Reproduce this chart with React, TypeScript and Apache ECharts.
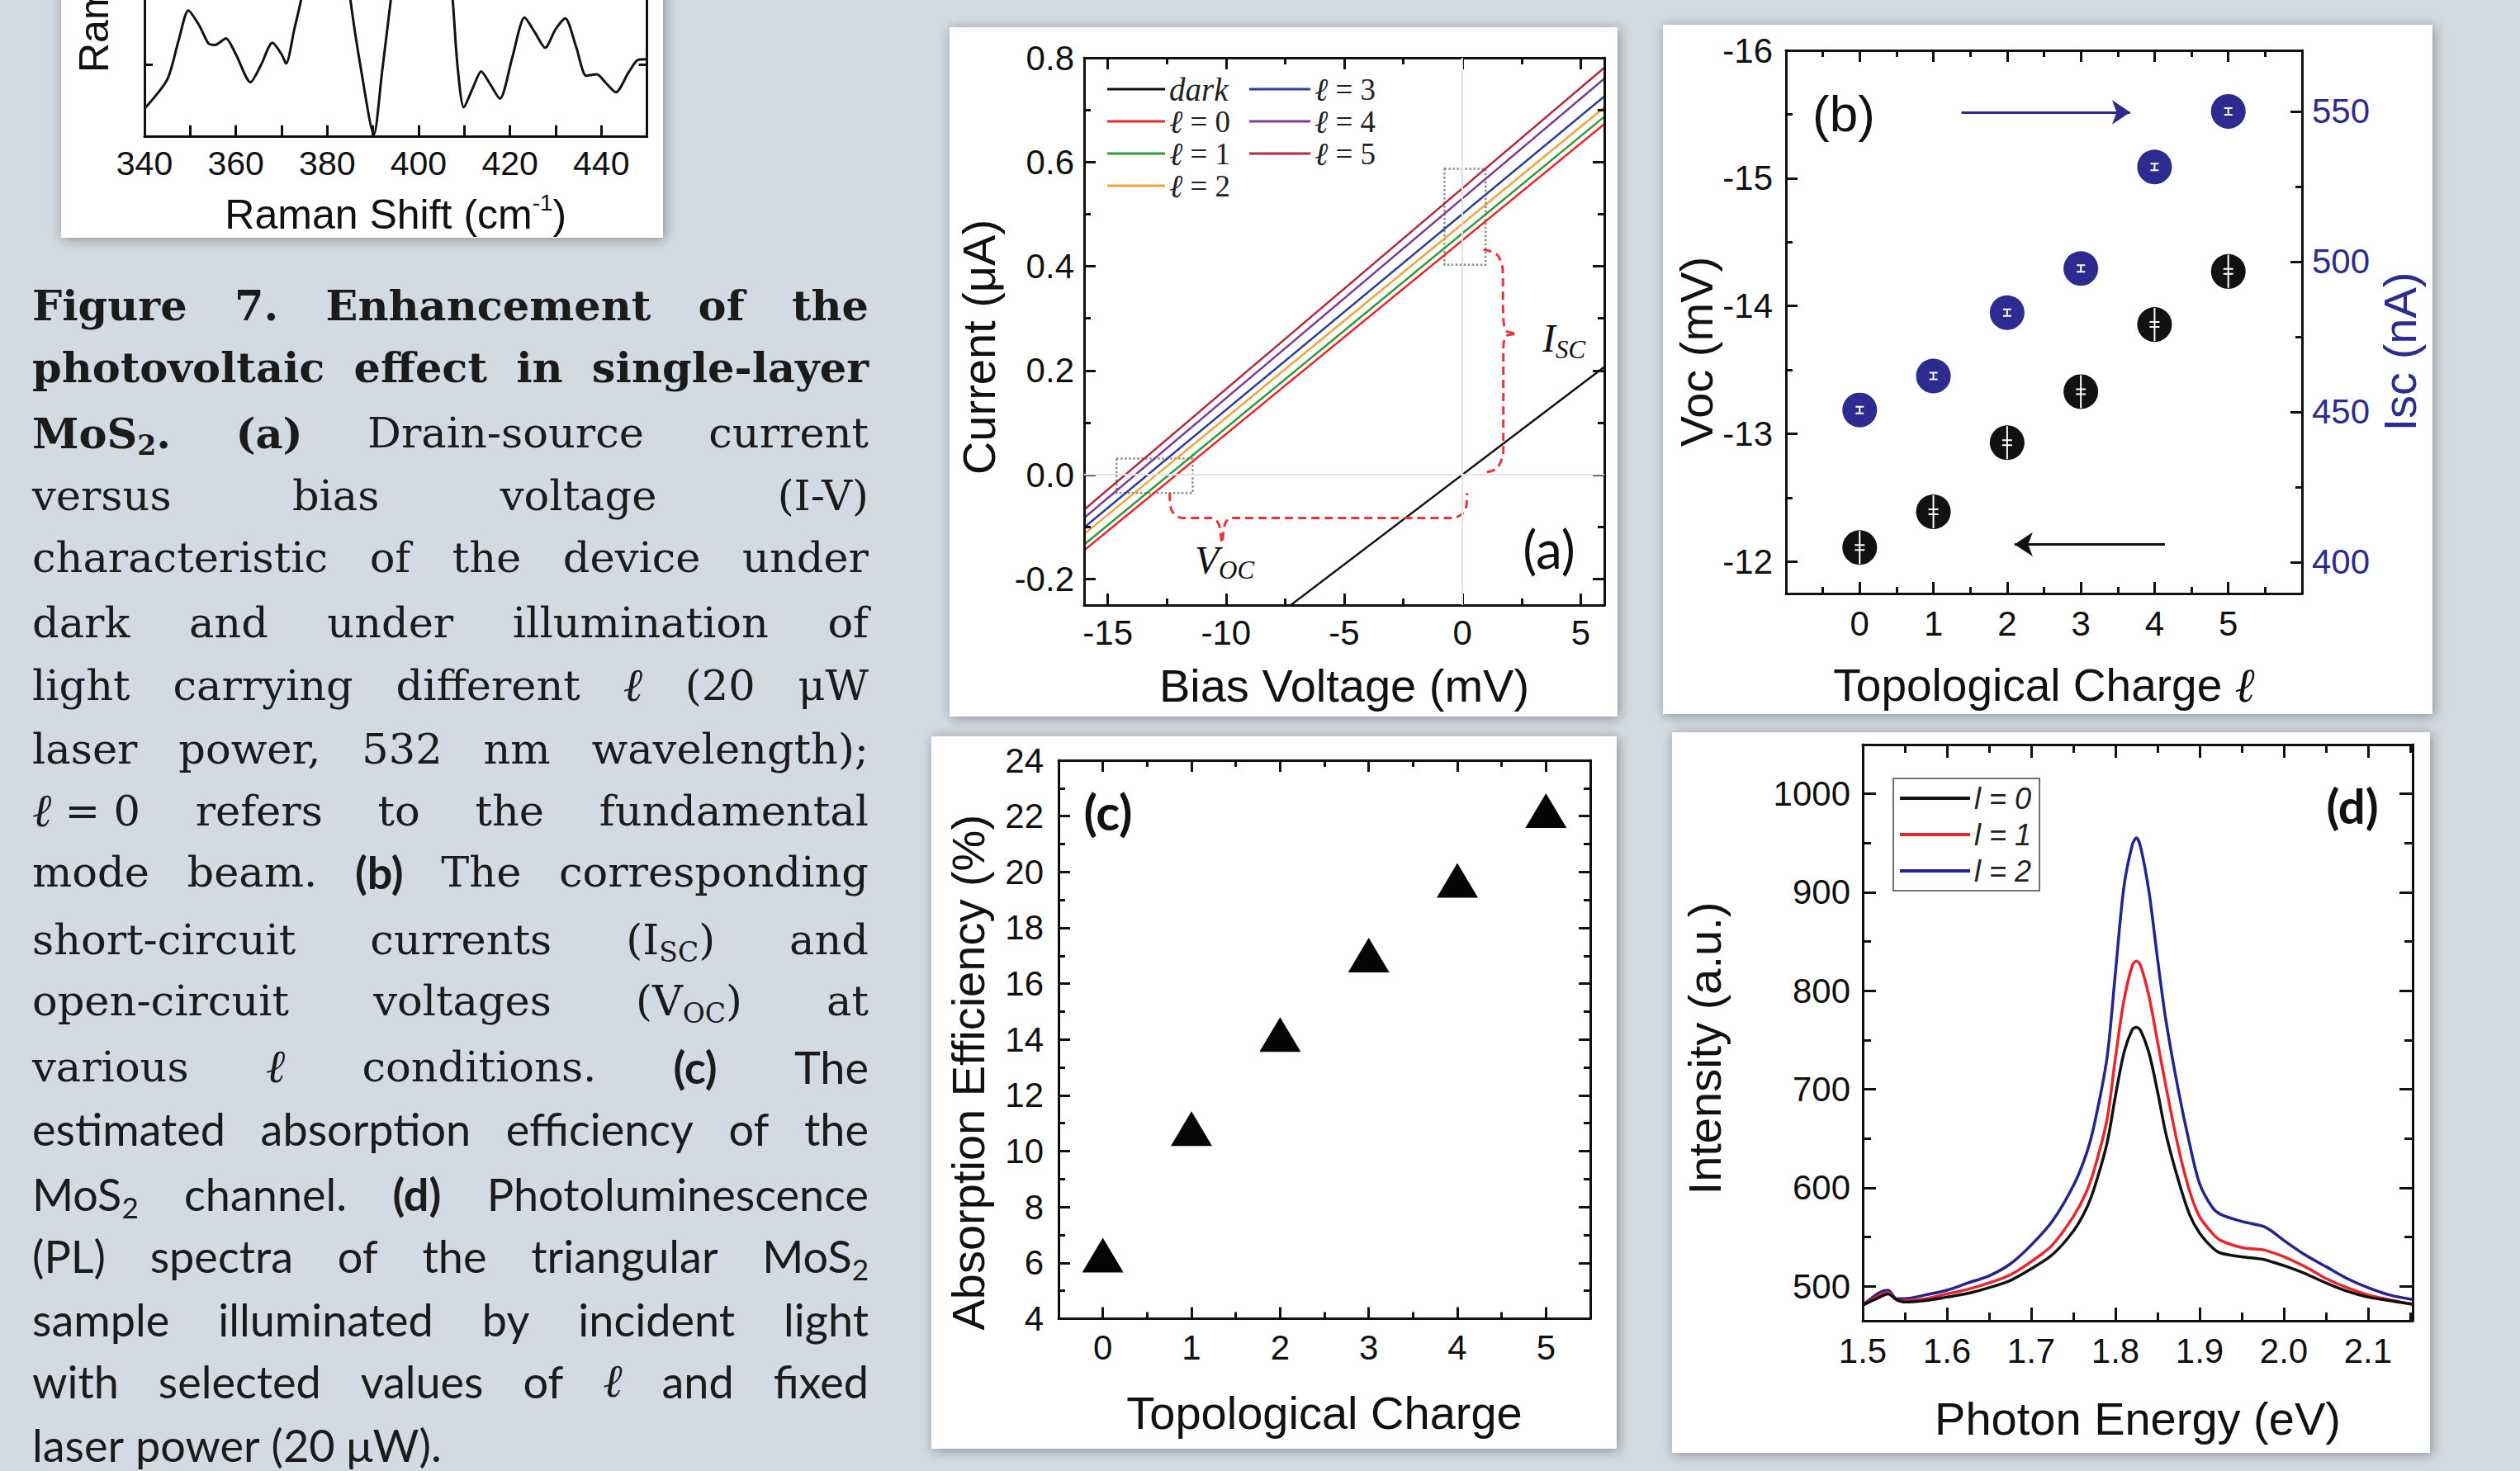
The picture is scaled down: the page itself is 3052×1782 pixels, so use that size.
import React, { useEffect, useRef } from 'react';
import * as echarts from 'echarts';

const SANS = '"Liberation Sans", Arial, Helvetica, sans-serif';
const SERIF = '"DejaVu Serif", "Liberation Serif", serif';
const MATH = '"Liberation Serif", "DejaVu Serif", serif';
const CAL = 'Lato, "Open Sans", sans-serif';
const INK = '#111111';
const NAVY = '#2c2b8f';
const RED = '#e8343c';
const BG = '#d4dae1';

// ---------------- DATA ----------------
// Raman inset (top-left, partly cut off)
const ramanShift = [340, 345, 347.5, 349.6, 352, 354, 355.5, 357.8, 360, 363.2, 365.5, 368, 370, 371, 372.8, 374.4, 377, 380, 383, 385, 387.5, 390.2, 392, 394, 397, 401, 405, 407.4, 408.5, 409.9, 412, 413.7, 415.5, 417.8, 420.5, 423.2, 425.5, 427.7, 430, 432.1, 434.5, 436.7, 439, 441, 443.2, 446, 448, 450];
const ramanIntensity = [0.39, 0.80, 1.35, 1.76, 1.55, 1.30, 1.28, 1.37, 1.15, 0.76, 1.0, 1.31, 1.15, 1.02, 1.5, 1.95, 3.0, 4.0, 3.2, 1.95, 0.9, 0.03, 0.9, 1.95, 3.5, 4.2, 3.3, 1.95, 1.0, 0.41, 0.7, 0.91, 0.75, 0.53, 1.1, 1.66, 1.45, 1.24, 1.5, 1.65, 1.25, 0.85, 0.87, 0.75, 0.62, 0.9, 1.07, 1.08];
const ramanTickLabels = [340, 360, 380, 400, 420, 440];
const ramanTicks = [350, 360, 370, 380, 390, 400, 410, 420, 430, 440];

// (a) I-V curves
const biasEnds = [-16, 6];
const darkBias = [-7.35, 6];
const darkCurrent = [-0.253, 0.207];
const currentL0 = [-0.145, 0.673];
const currentL1 = [-0.134, 0.687];
const currentL2 = [-0.114, 0.705];
const currentL3 = [-0.101, 0.726];
const currentL4 = [-0.083, 0.760];
const currentL5 = [-0.067, 0.781];
const ivNames = ['ℓ = 0', 'ℓ = 1', 'ℓ = 2', 'ℓ = 3', 'ℓ = 4', 'ℓ = 5'];
const ivColors = ['#e8262b', '#2f9a3c', '#f2a23a', '#2c3d9e', '#7d3c98', '#b32a3f'];
const biasTicks = [-15, -10, -5, 0, 5];
const biasMinor = [-12.5, -7.5, -2.5, 2.5];
const currentTicks = [-0.2, 0, 0.2, 0.4, 0.6, 0.8];
const currentMinor = [-0.1, 0.1, 0.3, 0.5, 0.7];
const vocBox = [[-14.63, 0.031], [-11.41, -0.035]];
const iscBox = [[-0.76, 0.587], [0.98, 0.403]];
const iscBraceV = [0.89, 1.45, 1.7, 1.73, 1.85, 2.29, 1.85, 1.73, 1.73, 1.45, 0.89];
const iscBraceI = [0.432, 0.423, 0.395, 0.3, 0.276, 0.271, 0.266, 0.245, 0.045, 0.012, 0.004];
const vocBraceV = [-12.38, -12.3, -11.85, -10.6, -10.3, -10.17, -10.05, -9.8, -0.4, 0.12, 0.2];
const vocBraceI = [-0.035, -0.068, -0.083, -0.083, -0.095, -0.131, -0.095, -0.083, -0.083, -0.068, -0.035];

// (b) Voc / Isc
const charge = [0, 1, 2, 3, 4, 5];
const vocValues = [-12.11, -12.39, -12.93, -13.33, -13.855, -14.27];
const iscValues = [450.6, 461.9, 483.0, 497.7, 531.5, 550.0];
const chargeHalfTicks = [-0.5, 0.5, 1.5, 2.5, 3.5, 4.5, 5.5];
const vocTicks = [-16, -15, -14, -13, -12];
const vocMinor = [-15.5, -14.5, -13.5, -12.5];
const iscTicks = [400, 450, 500, 550];
const iscMinor = [425, 475, 525];
const iscArrow = [[1.38, 549.7], [3.67, 549.7]];
const vocArrow = [[4.14, -12.135], [2.1, -12.135]];

// (c) absorption efficiency
const absorption = [6.28, 10.81, 14.18, 17.02, 19.7, 22.2];
const absTicks = [4, 6, 8, 10, 12, 14, 16, 18, 20, 22, 24];
const absMinor = [5, 7, 9, 11, 13, 15, 17, 19, 21, 23];
const chargeMidTicks = [0.5, 1.5, 2.5, 3.5, 4.5];

// (d) PL spectra
const photonEnergy = [1.5, 1.52, 1.53, 1.54, 1.55, 1.575, 1.6, 1.625, 1.65, 1.675, 1.7, 1.725, 1.75, 1.765, 1.775, 1.79, 1.8, 1.81, 1.82, 1.825, 1.83, 1.84, 1.85, 1.86, 1.875, 1.888, 1.9, 1.915, 1.925, 1.95, 1.975, 1.985, 2.0, 2.025, 2.05, 2.075, 2.1, 2.125, 2.153];
const plL0 = [480.8, 489, 492.3, 486.5, 484, 485.6, 489, 492.8, 498.6, 505.8, 517.8, 532, 556, 578, 600, 645, 693, 736.5, 760.6, 763, 759.6, 736.5, 698, 654.8, 607, 573, 554, 539.4, 533.7, 530, 527.4, 525, 521, 513, 503.4, 495, 489, 485.6, 481.7];
const plL1 = [481, 491, 494, 486.5, 485.6, 487.5, 492.3, 497, 503.4, 511.5, 525, 541.8, 570.7, 594.7, 618.8, 669, 731.7, 789.4, 825.5, 830.3, 825.5, 794, 748.6, 703, 640, 597, 570.7, 554, 546.6, 539.4, 537, 534.6, 530, 520, 508, 498.6, 491.3, 486.5, 481.7];
const plL2 = [481, 493.7, 496, 487.5, 487.5, 491.3, 496, 503.4, 510.6, 522.6, 541.8, 565.9, 602, 633.2, 664.4, 731.7, 818, 904.8, 948, 955.3, 945.7, 900, 832.7, 770, 698, 645, 604.3, 580.3, 573, 565.9, 561, 556.3, 546.6, 532, 520, 508, 498.6, 491.3, 486.5];
const plNames = ['l = 0', 'l = 1', 'l = 2'];
const plColors = ['#111111', '#e8262b', '#25238f'];
const energyTicks = [1.5, 1.6, 1.7, 1.8, 1.9, 2.0, 2.1];
const energyMinor = [1.55, 1.65, 1.75, 1.85, 1.95, 2.05, 2.15];
const intensityTicks = [500, 600, 700, 800, 900, 1000];
const intensityMinor = [550, 650, 750, 850, 950];

// Caption text (style:text, runs joined by +, ~ = space)
const CAPTION = [
  'sb:Figure sb:7. sb:Enhancement sb:of sb:the',
  'sb:photovoltaic sb:effect sb:in sb:single-layer',
  'sb:MoS+sbs:2+sb:. sb:(a) sr:Drain-source sr:current',
  'sr:versus sr:bias sr:voltage sr:(I-V)',
  'sr:characteristic sr:of sr:the sr:device sr:under',
  'sr:dark sr:and sr:under sr:illumination sr:of',
  'sr:light sr:carrying sr:different si:ℓ sr:(20 sr:μW',
  'sr:laser sr:power, sr:532 sr:nm sr:wavelength);',
  'si:ℓ+sr:~=~0 sr:refers sr:to sr:the sr:fundamental',
  'sr:mode sr:beam. nb:(b) sr:The sr:corresponding',
  'sr:short-circuit sr:currents sr:(I+srs:SC+sr:) sr:and',
  'sr:open-circuit sr:voltages sr:(V+srs:OC+sr:) sr:at',
  'sr:various si:ℓ sr:conditions. nb:(c) nr:The',
  'nr:estimated nr:absorption nr:efficiency nr:of nr:the',
  'nr:MoS+nrs:2 nr:channel. nb:(d) nr:Photoluminescence',
  'nr:(PL) nr:spectra nr:of nr:the nr:triangular nr:MoS+nrs:2',
  'nr:sample nr:illuminated nr:by nr:incident nr:light',
  'nr:with nr:selected nr:values nr:of si:ℓ nr:and nr:fixed',
  'nr:laser nr:power nr:(20 nr:μW).',
];
const CAP_Y = [370, 445, 524.5, 600, 675, 754, 830, 907.5, 982, 1056.5, 1138, 1212, 1292, 1367, 1446, 1521, 1598.5, 1673, 1750.5];
const CAP_LEFT = 39;
const CAP_RIGHT = 1052;
const CAP_SERIF_SIZE = 51;
const CAP_SANS_SIZE = 54;

function pairs(xs: number[], ys: number[]) {
  return xs.map((x, i) => [x, ys[i]]);
}

function capFont(key: string) {
  const S = CAP_SERIF_SIZE;
  const N = CAP_SANS_SIZE;
  const sub = key.length === 3 && key[2] === 's';
  const isSans = key[0] === 'n';
  const base = isSans ? N : S;
  const k2 = key[1];
  return {
    isSans,
    group: isSans ? 'n' : k2 === 'b' ? 'b' : 'r',
    family: isSans ? CAL : k2 === 'i' ? MATH : SERIF,
    weight: k2 === 'b' ? 'bold' : 'normal',
    style: k2 === 'i' ? 'italic' : 'normal',
    size: sub ? Math.round(base * 0.64) : k2 === 'i' ? Math.round(base * 1.1) : base,
    sub,
    base,
  };
}

function buildCaption(): any[] {
  const ctx = document.createElement('canvas').getContext('2d') as CanvasRenderingContext2D;
  const parsed = CAPTION.map((line) =>
    line.split(' ').map((w) =>
      w.split('+').map((r) => {
        const i = r.indexOf(':');
        return { k: r.slice(0, i), t: r.slice(i + 1).replace(/~/g, ' ') };
      })
    )
  );
  const rawW = (r: any) => {
    const f = capFont(r.k);
    ctx.font = `${f.style} ${f.weight} ${f.size}px ${f.family}`;
    return ctx.measureText(r.t).width;
  };
  const avail = CAP_RIGHT - CAP_LEFT;
  const parts = (ws: any[]) => {
    const p: any = { b: 0, r: 0, n: 0 };
    ws.forEach((w) => w.forEach((r: any) => {
      p[capFont(r.k).group] += rawW(r);
    }));
    return p;
  };
  const k: any = { b: 1, r: 1, n: 1 };
  for (let i = 0; i <= 1; i++) {
    const ws = parsed[i];
    const p = parts(ws);
    const gaps = (ws.length - 1) * 0.26 * CAP_SERIF_SIZE;
    k.b = Math.min(k.b, (avail - gaps) / p.b);
  }
  for (let i = 2; i <= 12; i++) {
    const ws = parsed[i];
    const p = parts(ws);
    const gaps = (ws.length - 1) * 0.26 * CAP_SERIF_SIZE;
    k.r = Math.min(k.r, (avail - gaps - p.b * k.b - p.n) / p.r);
  }
  for (let i = 13; i <= 17; i++) {
    const ws = parsed[i];
    const p = parts(ws);
    const gaps = (ws.length - 1) * 0.23 * CAP_SANS_SIZE;
    k.n = Math.min(k.n, (avail - gaps - p.r * k.r - p.b * k.b) / p.n);
  }
  const runK = (r: any) => k[capFont(r.k).group];
  const runW = (r: any) => rawW(r) * runK(r);
  const wordW = (w: any[]) => w.reduce((a, r) => a + runW(r), 0);

  const els: any[] = [];
  parsed.forEach((ws, li) => {
    const widths = ws.map((w) => wordW(w));
    const sum = widths.reduce((a, b) => a + b, 0);
    let gap: number;
    if (li === parsed.length - 1) {
      ctx.font = `normal normal ${CAP_SANS_SIZE}px ${CAL}`;
      gap = ctx.measureText(' ').width * k.n;
    } else {
      gap = (avail - sum) / (ws.length - 1);
    }
    let x = CAP_LEFT;
    const y = CAP_Y[li];
    ws.forEach((w, wi) => {
      let rx = x;
      w.forEach((r) => {
        const f = capFont(r.k);
        els.push({
          type: 'text',
          x: rx,
          y: f.sub ? y + f.base * 0.3 : y,
          scaleX: runK(r),
          z: 100,
          silent: true,
          style: {
            text: r.t,
            fontSize: f.size,
            fontFamily: f.family,
            fontWeight: f.weight,
            fontStyle: f.style,
            fill: '#1b1b1b',
            textAlign: 'left',
            textVerticalAlign: 'middle',
            verticalAlign: 'middle',
          },
        });
        rx += runW(r);
      });
      x += widths[wi] + gap;
    });
  });
  return els;
}

function buildOption() {
  const xAxes: any[] = [];
  const yAxes: any[] = [];
  const ax = (list: any[], c: any) => {
    list.push({
      type: 'value',
      gridIndex: c.grid,
      position: c.pos,
      min: c.min,
      max: c.max,
      inverse: !!c.inverse,
      silent: true,
      z: 4,
      axisLine: { show: c.line !== false, onZero: false, lineStyle: { color: INK, width: 3 } },
      axisTick:
        c.ticks && c.ticks.length
          ? { show: true, inside: true, length: c.len ?? 14, customValues: c.ticks, lineStyle: { color: INK, width: 3 } }
          : { show: false },
      axisLabel: c.labels
        ? {
            show: true,
            customValues: c.labels,
            formatter: c.fmt ?? ((v: number) => String(v)),
            fontSize: c.labelSize ?? 42,
            fontFamily: SANS,
            color: c.color ?? INK,
            margin: c.margin ?? 13,
          }
        : { show: false },
      splitLine: { show: false },
      minorTick: { show: false },
      name: c.name ?? '',
      nameLocation: 'middle',
      nameGap: c.gap ?? 0,
      nameTextStyle: c.nameStyle ?? {},
    });
    return list.length - 1;
  };
  const nm = (size: number, color: string, padRight: number) => ({
    fontSize: size,
    fontFamily: SANS,
    color,
    padding: [0, padRight, 0, 0],
  });
  const box = (g: number, xc: any, yc: any) => {
    const xi = ax(xAxes, { grid: g, pos: 'bottom', min: xc.min, max: xc.max, ticks: xc.major, len: xc.len, labels: xc.labels, fmt: xc.fmt, margin: xc.margin, name: xc.name, gap: xc.gap, nameStyle: xc.nameStyle ?? nm(56, INK, 0) });
    ax(xAxes, { grid: g, pos: 'bottom', min: xc.min, max: xc.max, ticks: xc.minor, len: xc.mlen ?? 8, line: false });
    ax(xAxes, { grid: g, pos: 'top', min: xc.min, max: xc.max, ticks: xc.major, len: xc.len });
    ax(xAxes, { grid: g, pos: 'top', min: xc.min, max: xc.max, ticks: xc.minor, len: xc.mlen ?? 8, line: false });
    const yi = ax(yAxes, { grid: g, pos: 'left', min: yc.min, max: yc.max, ticks: yc.major, len: yc.len, labels: yc.labels, fmt: yc.fmt, margin: yc.margin, name: yc.name, gap: yc.gap, nameStyle: nm(56, INK, yc.pad ?? 0) });
    ax(yAxes, { grid: g, pos: 'left', min: yc.min, max: yc.max, ticks: yc.minor, len: yc.mlen ?? 8, line: false });
    ax(yAxes, { grid: g, pos: 'right', min: yc.min, max: yc.max, ticks: yc.major, len: yc.len });
    ax(yAxes, { grid: g, pos: 'right', min: yc.min, max: yc.max, ticks: yc.minor, len: yc.mlen ?? 8, line: false });
    return { xi, yi };
  };

  const grid = [
    { left: 175, top: -234.3, width: 608.6, height: 400 },
    { left: 1313, top: 70, width: 630, height: 663 },
    { left: 2163, top: 61, width: 625, height: 658 },
    { left: 1282, top: 921, width: 644, height: 676.5 },
    { left: 2256, top: 902, width: 666, height: 698 },
  ].map((g) => ({ ...g, containLabel: false, outerBoundsMode: 'none', show: false }));

  // Raman inset axes
  const rx = ax(xAxes, {
    grid: 0, pos: 'bottom', min: 340, max: 450, ticks: ramanTicks, len: 14, labels: ramanTickLabels, margin: 12, labelSize: 41,
    name: '{a|Raman Shift (cm}{b|-1}{a|)}', gap: 66,
    nameStyle: {
      rich: {
        a: { fontSize: 50, fontFamily: SANS, color: INK, lineHeight: 56 },
        b: { fontSize: 28, fontFamily: SANS, color: INK, lineHeight: 32, verticalAlign: 'top' },
      },
    },
  });
  const ry = ax(yAxes, { grid: 0, pos: 'left', min: 0, max: 4.6, ticks: [1, 2, 3, 4], len: 10 });
  ax(yAxes, { grid: 0, pos: 'right', min: 0, max: 4.6, ticks: [1, 2, 3, 4], len: 10 });

  // (a)
  const A = box(
    1,
    { min: -16, max: 6, major: biasTicks, minor: biasMinor, labels: biasTicks, margin: 12, name: 'Bias Voltage (mV)', gap: 69 },
    { min: -0.25, max: 0.8, major: currentTicks, minor: currentMinor, labels: currentTicks, fmt: (v: number) => v.toFixed(1), margin: 12, name: 'Current (μA)', gap: 100, pad: 38 }
  );

  // (b)
  const bx = ax(xAxes, {
    grid: 2, pos: 'bottom', min: -1, max: 6, ticks: charge, labels: charge, margin: 15,
    name: '{a|Topological Charge }{l|ℓ}', gap: 82,
    nameStyle: {
      rich: {
        a: { fontSize: 55, fontFamily: SANS, color: INK },
        l: { fontSize: 58, fontFamily: MATH, fontStyle: 'italic', color: INK },
      },
    },
  });
  ax(xAxes, { grid: 2, pos: 'bottom', min: -1, max: 6, ticks: chargeHalfTicks, len: 8, line: false });
  ax(xAxes, { grid: 2, pos: 'top', min: -1, max: 6, ticks: charge });
  ax(xAxes, { grid: 2, pos: 'top', min: -1, max: 6, ticks: chargeHalfTicks, len: 8, line: false });
  const byL = ax(yAxes, { grid: 2, pos: 'left', min: -16, max: -11.75, inverse: true, ticks: vocTicks, labels: vocTicks, margin: 16, name: 'Voc (mV)', gap: 80, nameStyle: nm(56, INK, 72) });
  ax(yAxes, { grid: 2, pos: 'left', min: -16, max: -11.75, inverse: true, ticks: vocMinor, len: 8, line: false });
  const byR = ax(yAxes, { grid: 2, pos: 'right', min: 389.5, max: 570.3, ticks: iscTicks, labels: iscTicks, color: NAVY, margin: 12, name: 'Isc (nA)', gap: 90, nameStyle: nm(56, NAVY, 72) });
  ax(yAxes, { grid: 2, pos: 'right', min: 389.5, max: 570.3, ticks: iscMinor, len: 8, line: false });

  // (c)
  const C = box(
    3,
    { min: -0.5, max: 5.5, major: charge, minor: chargeMidTicks, labels: charge, margin: 14, name: 'Topological Charge', gap: 86 },
    { min: 4, max: 24, major: absTicks, minor: absMinor, labels: absTicks, margin: 18, name: 'Absorption Efficiency (%)', gap: 82, pad: 80 }
  );

  // (d)
  const D = box(
    4,
    { min: 1.5, max: 2.153, major: energyTicks, minor: energyMinor, labels: energyTicks, fmt: (v: number) => v.toFixed(1), margin: 15, len: 16, mlen: 10, name: 'Photon Energy (eV)', gap: 90 },
    { min: 465, max: 1050, major: intensityTicks, minor: intensityMinor, labels: intensityTicks, margin: 15, len: 16, mlen: 10, name: 'Intensity (a.u.)', gap: 164, pad: 38 }
  );

  const series: any[] = [];
  // Raman
  series.push({
    type: 'line', name: 'Raman', xAxisIndex: rx, yAxisIndex: ry, data: pairs(ramanShift, ramanIntensity),
    symbol: 'none', smooth: 0.25, clip: true, silent: true,
    lineStyle: { color: INK, width: 3 }, itemStyle: { color: INK },
  });

  // (a) guides + dotted boxes
  series.push({
    type: 'line', name: 'guides', xAxisIndex: A.xi, yAxisIndex: A.yi, data: [[0, 0]], symbol: 'none',
    lineStyle: { opacity: 0 }, z: 1, silent: true,
    markLine: {
      silent: true, symbol: 'none', label: { show: false },
      lineStyle: { color: '#e3e3e3', width: 2, type: 'solid' },
      data: [{ xAxis: 0 }, { yAxis: 0 }],
    },
    markArea: {
      silent: true, label: { show: false },
      itemStyle: { color: 'rgba(0,0,0,0)', borderColor: '#8c8c8c', borderWidth: 2.5, borderType: 'dotted' },
      data: [
        [{ coord: vocBox[0] }, { coord: vocBox[1] }],
        [{ coord: iscBox[0] }, { coord: iscBox[1] }],
      ],
    },
  });
  series.push({
    type: 'line', name: 'dark', xAxisIndex: A.xi, yAxisIndex: A.yi, data: pairs(darkBias, darkCurrent),
    symbol: 'none', clip: true, z: 3, lineStyle: { color: INK, width: 2.5 }, itemStyle: { color: INK },
  });
  const ivData = [currentL0, currentL1, currentL2, currentL3, currentL4, currentL5];
  ivData.forEach((cur, i) => {
    series.push({
      type: 'line', name: ivNames[i], xAxisIndex: A.xi, yAxisIndex: A.yi, data: pairs(biasEnds, cur),
      symbol: 'none', clip: true, z: 3, lineStyle: { color: ivColors[i], width: 2.5 }, itemStyle: { color: ivColors[i] },
    });
  });
  series.push({
    type: 'line', name: 'Isc brace', xAxisIndex: A.xi, yAxisIndex: A.yi, data: pairs(iscBraceV, iscBraceI),
    symbol: 'none', smooth: 0.3, z: 4, silent: true, lineStyle: { color: RED, width: 3, type: [10, 6] }, itemStyle: { color: RED },
  });
  series.push({
    type: 'line', name: 'Voc brace', xAxisIndex: A.xi, yAxisIndex: A.yi, data: pairs(vocBraceV, vocBraceI),
    symbol: 'none', smooth: 0.3, z: 4, silent: true, lineStyle: { color: RED, width: 3, type: [10, 6] }, itemStyle: { color: RED },
  });

  // (b)
  series.push({
    type: 'scatter', name: 'Voc', xAxisIndex: bx, yAxisIndex: byL, data: pairs(charge, vocValues),
    symbol: 'circle', symbolSize: 42, itemStyle: { color: INK, opacity: 1 }, z: 3, silent: true,
    markLine: {
      silent: true, symbol: ['none', 'arrow'], symbolSize: 22, label: { show: false },
      lineStyle: { color: INK, width: 3, type: 'solid' },
      data: [[{ coord: vocArrow[0] }, { coord: vocArrow[1] }]],
    },
  });
  series.push({
    type: 'scatter', name: 'Voc error', xAxisIndex: bx, yAxisIndex: byL, data: pairs(charge, vocValues),
    symbol: 'path://M5 0h2v40h-2z M0 16h12v2h-12z M0 22h12v2h-12z', symbolSize: [12, 40],
    itemStyle: { color: '#ffffff', opacity: 1 }, z: 5, silent: true,
  });
  series.push({
    type: 'scatter', name: 'Isc', xAxisIndex: bx, yAxisIndex: byR, data: pairs(charge, iscValues),
    symbol: 'circle', symbolSize: 42, itemStyle: { color: NAVY, opacity: 1 }, z: 3, silent: true,
    markLine: {
      silent: true, symbol: ['none', 'arrow'], symbolSize: 22, label: { show: false },
      lineStyle: { color: NAVY, width: 3, type: 'solid' },
      data: [[{ coord: iscArrow[0] }, { coord: iscArrow[1] }]],
    },
  });
  series.push({
    type: 'scatter', name: 'Isc error', xAxisIndex: bx, yAxisIndex: byR, data: pairs(charge, iscValues),
    symbol: 'path://M0 0h10v2h-10z M4 0h2v10h-2z M0 8h10v2h-10z', symbolSize: [10, 10],
    itemStyle: { color: '#ffffff', opacity: 1 }, z: 5, silent: true,
  });

  // (c)
  series.push({
    type: 'scatter', name: 'Absorption', xAxisIndex: C.xi, yAxisIndex: C.yi, data: pairs(charge, absorption),
    symbol: 'triangle', symbolSize: [50, 42], itemStyle: { color: '#050505', opacity: 1 }, z: 3, silent: true,
  });

  // (d)
  [plL0, plL1, plL2].forEach((arr, i) => {
    series.push({
      type: 'line', name: plNames[i], xAxisIndex: D.xi, yAxisIndex: D.yi, data: pairs(photonEnergy, arr),
      symbol: 'none', smooth: 0.3, clip: true, z: 3 + (2 - i),
      lineStyle: { color: plColors[i], width: 3.5 }, itemStyle: { color: plColors[i] },
    });
  });

  const legendA = (name: string) => (name === 'dark' ? '{i|dark}' : `{i|ℓ}{r| = ${name.slice(-1)}}`);
  const legendAText = {
    fontSize: 37, lineHeight: 39, color: '#222',
    rich: {
      i: { fontFamily: MATH, fontStyle: 'italic', fontSize: 39, lineHeight: 39, color: '#222' },
      r: { fontFamily: MATH, fontSize: 37, lineHeight: 39, color: '#222' },
    },
  };
  const legend = [
    {
      data: ['dark', 'ℓ = 0', 'ℓ = 1', 'ℓ = 2'], orient: 'vertical', left: 1341, top: 88.5,
      icon: 'rect', itemWidth: 70, itemHeight: 3, itemGap: 0, padding: 0, selectedMode: false,
      formatter: legendA, textStyle: legendAText,
    },
    {
      data: ['ℓ = 3', 'ℓ = 4', 'ℓ = 5'], orient: 'vertical', left: 1513, top: 88.5,
      icon: 'rect', itemWidth: 74, itemHeight: 3, itemGap: 0, padding: 0, selectedMode: false,
      formatter: legendA, textStyle: legendAText,
    },
    {
      data: plNames, orient: 'vertical', left: 2293, top: 943,
      icon: 'rect', itemWidth: 85, itemHeight: 4, itemGap: 8, padding: [6, 10, 6, 8], selectedMode: false,
      borderColor: '#444', borderWidth: 1.5, backgroundColor: '#ffffff',
      textStyle: { fontFamily: SANS, fontStyle: 'italic', fontSize: 36, lineHeight: 36, color: '#222' },
    },
  ];

  const panel = (x: number, y: number, w: number, h: number) => ({
    type: 'rect', z: 0, silent: true,
    shape: { x, y, width: w, height: h },
    style: { fill: '#ffffff', shadowBlur: 14, shadowColor: 'rgba(40,44,60,0.45)', shadowOffsetX: 2, shadowOffsetY: 2 },
  });
  const txt = (text: string, x: number, y: number, size: number, family: string, opts: any = {}) => ({
    type: 'text', x, y, z: 100, silent: true, rotation: opts.rotation ?? 0,
    style: {
      text, fontSize: size, fontFamily: family, fontWeight: opts.weight ?? 'normal', fontStyle: opts.style ?? 'normal',
      fill: opts.color ?? INK, textAlign: opts.align ?? 'center', textVerticalAlign: 'middle', verticalAlign: 'middle',
    },
  });

  const elements: any[] = [
    panel(74, -20, 729, 308),
    panel(1150, 33, 809, 835),
    panel(2014, 30, 932, 835),
    panel(1128, 892, 830, 863),
    panel(2025, 887, 918, 873),
    txt('Raman Intensity (a.u.)', 114, 88, 50, SANS, { rotation: Math.PI / 2, align: 'left' }),
    txt('(a)', 1876, 664, 64, CAL),
    txt('(b)', 2233, 137, 62, SANS),
    txt('(c)', 1342, 983, 60, CAL, { weight: 'bold' }),
    txt('(d)', 2849, 975, 58, CAL, { weight: 'bold' }),
    txt('I', 1868, 409, 48, MATH, { style: 'italic', align: 'left' }),
    txt('SC', 1884, 423, 31, MATH, { style: 'italic', align: 'left' }),
    txt('V', 1447, 678, 48, MATH, { style: 'italic', align: 'left' }),
    txt('OC', 1476, 690, 31, MATH, { style: 'italic', align: 'left' }),
    ...buildCaption(),
  ];

  return {
    animation: false,
    backgroundColor: BG,
    grid,
    xAxis: xAxes,
    yAxis: yAxes,
    legend,
    series,
    graphic: { elements },
  };
}

export default function App() {
  const ref = useRef<HTMLDivElement>(null);
  useEffect(() => {
    const el = ref.current;
    if (!el) return;
    const chart = echarts.init(el, null, { renderer: 'svg', width: 3052, height: 1782 });
    chart.setOption(buildOption() as any);
    return () => chart.dispose();
  }, []);
  return <div ref={ref} style={{ position: 'fixed', left: 0, top: 0, width: 3052, height: 1782 }} />;
}
